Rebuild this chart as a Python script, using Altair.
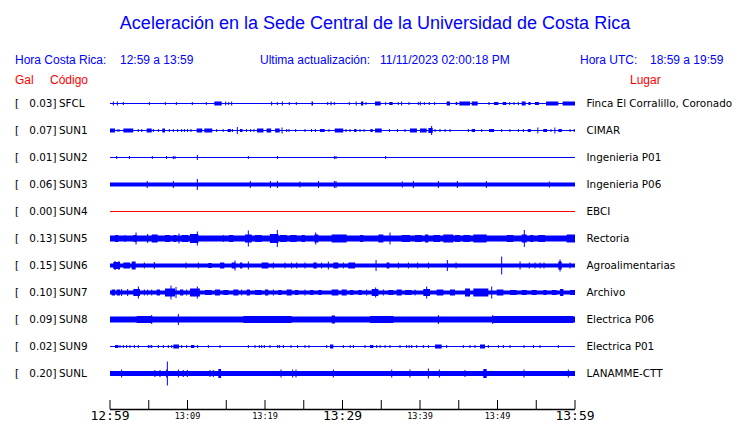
import altair as alt
import pandas as pd

# ---------------- data ----------------
TITLE = "Aceleración en la Sede Central de la Universidad de Costa Rica"
STATIONS = ["SFCL", "SUN1", "SUN2", "SUN3", "SUN4", "SUN5", "SUN6", "SUN7", "SUN8", "SUN9", "SUNL"]
GAL = [0.03, 0.07, 0.01, 0.06, 0.00, 0.13, 0.15, 0.10, 0.09, 0.02, 0.20]
PLACES = ["Finca El Corralillo, Coronado", "CIMAR", "Ingenieria P01", "Ingenieria P06", "EBCI",
          "Rectoria", "Agroalimentarias", "Archivo", "Electrica P06", "Electrica P01", "LANAMME-CTT"]
# background noise half-amplitude of each trace
NOISE = [0.5, 0.5, 0.5, 2, 0.5, 3, 2, 2, 3, 0.5, 2.5]

# spikes: (minute after 12:59, half amplitude)
SPIKES = {
    "SFCL": [(0.43, 2), (0.95, 2), (1.72, 1.5), (5.08, 1.5), (7.14, 1.5), (8.56, 1.5), (10.62, 1.5), (12.43, 1.5),
             (14.93, 2), (15.31, 1.5), (15.70, 2), (20.86, 2), (21.59, 1.5), (22.24, 2), (23.14, 1.5), (24.04, 1.5),
             (28.09, 1.5), (28.52, 2), (28.95, 1.5), (30.88, 1.5), (33.03, 1.5), (35.57, 1.5), (37.2, 1.5),
             (37.63, 2), (38.58, 1.5), (39.78, 1.5), (40.04, 2), (40.56, 1.5), (41.2, 1.5), (41.89, 1.5),
             (48.9, 1.5), (51.57, 1.5), (52.13, 1.5), (52.69, 1.5)],
    "SUN1": [(3.65, 1.5), (4.1, 1.5), (5.6, 1.5), (6.24, 1.5), (7.66, 1.5), (8.17, 1.5), (8.73, 1.5), (9.25, 1.5),
             (9.6, 1.5), (10.0, 1.5), (10.45, 1.5), (13.76, 1.5), (14.6, 1.5), (15.8, 1.5), (16.43, 3.5),
             (17.6, 1.5), (18.15, 1.5), (18.58, 1.5), (22.2, 3), (22.8, 1.5), (23.1, 1.5), (23.96, 1.5),
             (25.16, 1.5), (26.0, 1.5), (26.5, 1.5), (28.26, 1.5), (30.45, 1.5), (30.97, 1.5), (32.26, 1.5),
             (32.78, 1.5), (36.05, 1.5), (37.08, 1.5), (38.07, 1.5), (41.5, 4.5), (41.94, 1.5), (42.58, 1.5),
             (43.23, 1.5), (43.87, 1.5), (46.24, 1.5), (47.96, 1.5), (50.54, 1.5), (51.6, 1.5), (52.69, 1.5),
             (53.34, 1.5), (55.2, 3), (56.9, 1.5), (57.4, 3), (59.36, 1.5), (59.9, 1.5)],
    "SUN2": [(0.86, 1.5), (2.5, 1.5), (5.46, 1.5), (7.3, 1.5), (8.17, 1.5), (8.39, 1.5), (11.27, 2.5),
             (17.85, 1.5), (21.6, 1.5), (28.95, 1.5), (29.16, 1.5), (35.57, 1.5)],
    "SUN3": [(4.8, 3.5), (8.17, 3.5), (11.27, 5.5), (18.1, 3.5), (20.69, 3.5), (21.6, 3.5), (24.5, 3),
             (26.9, 3.5), (28.95, 3.5), (29.16, 3.5), (37.72, 3), (39.14, 3.5), (42.37, 3.5), (44.82, 3.5),
             (48.56, 3.5), (56.69, 3)],
    "SUN4": [],
    "SUN5": [(1.94, 3.5), (3.36, 6), (4.86, 4.5), (8.9, 5), (11.27, 7), (14.62, 3.5), (17.85, 8), (21.59, 8.5),
             (26.54, 6), (36.13, 6), (53.46, 8.5)],
    "SUN6": [(0.65, 4.5), (1.16, 4.5), (4.43, 3), (5.72, 3.5), (9.81, 3), (11.4, 3), (16.13, 5), (17.85, 4),
             (21.08, 3), (22.58, 3), (23.44, 3), (24.09, 3), (25.16, 3), (27.31, 3), (28.17, 4), (30.11, 3),
             (34.33, 5.5), (37.21, 3), (38.5, 3), (39.7, 3), (41.08, 3), (43.53, 5.5), (44.65, 3), (50.54, 9),
             (52.91, 4), (54.11, 3), (54.84, 3), (55.49, 3), (56.0, 3), (58.07, 6), (59.36, 3)],
    "SUN7": [(1.5, 3.5), (2.28, 3.5), (3.66, 6), (4.43, 3), (4.86, 3), (5.38, 3), (7.87, 7), (8.52, 5.5),
             (9.89, 3), (11.27, 6), (16.99, 3), (21.08, 3), (25.16, 3), (33.12, 3), (34.28, 5), (35.27, 3),
             (39.36, 3), (40.86, 6), (49.25, 6)],
    "SUN8": [(5.38, 4.5), (8.82, 5.5), (42.37, 4.5), (49.38, 4.5)],
    "SUN9": [(1.29, 1.5), (1.72, 1.5), (2.15, 1.5), (2.58, 1.5), (3.14, 1.5), (3.65, 1.5), (4.95, 1.5),
             (5.16, 1.5), (5.38, 1.5), (6.24, 1.5), (6.88, 1.5), (7.53, 1.5), (7.96, 1.5), (9.25, 1.5),
             (9.89, 1.5), (11.31, 1.5), (12.69, 1.5), (14.19, 1.5), (17.85, 1.5), (18.71, 1.5), (19.27, 1.5),
             (19.57, 1.5), (19.91, 1.5), (20.64, 1.5), (21.63, 1.5), (21.85, 1.5), (22.37, 1.5), (23.36, 1.5),
             (24.21, 1.5), (25.16, 1.5), (25.68, 1.5), (27.96, 1.5), (30.11, 1.5), (31.0, 1.5), (31.4, 1.5),
             (32.9, 1.5), (34.41, 1.5), (34.85, 1.5), (35.49, 1.5), (36.13, 1.5), (37.42, 1.5), (38.28, 1.5),
             (38.6, 1.5), (38.93, 1.5), (39.57, 1.5), (40.43, 1.5), (41.08, 1.5), (43.44, 1.5), (45.59, 1.5),
             (46.45, 1.5), (47.1, 1.5), (48.82, 1.5), (50.11, 1.5), (50.75, 1.5), (51.62, 1.5), (53.42, 1.5),
             (54.63, 1.5), (55.49, 1.5), (57.85, 1.5)],
    "SUNL": [(1.5, 4), (5.8, 3.5), (6.45, 3.5), (7.31, 4), (7.4, 12), (8.82, 4), (9.46, 3.5), (9.98, 3.5),
             (12.9, 3.5), (13.33, 3.5), (22.07, 4), (23.57, 4), (24.0, 4), (28.82, 4), (36.35, 4), (38.71, 4),
             (41.08, 5), (42.5, 4), (45.81, 3.5), (53.42, 4), (59.14, 4)],
}

# bursts: (start minute, end minute, half amplitude)
BURSTS = {
    "SFCL": [(13.46, 14.41, 2), (26.0, 26.2, 2), (31.7, 31.83, 2), (32.39, 32.69, 2), (34.19, 34.92, 2),
             (36.04, 36.47, 1.5), (43.44, 43.87, 2), (44.6, 44.82, 1.5), (45.08, 46.45, 2), (46.67, 47.44, 2),
             (49.55, 50.11, 1.5), (50.67, 51.14, 1.5), (53.12, 53.63, 2), (53.98, 54.28, 1.5),
             (54.84, 55.35, 1.5), (56.26, 57.85, 2), (58.4, 60.0, 2)],
    "SUN1": [(0.0, 0.65, 2), (0.86, 1.29, 1), (1.72, 3.0, 2), (4.73, 5.38, 2), (6.75, 7.1, 2), (11.18, 11.9, 2),
             (12.17, 13.2, 2), (15.18, 15.6, 1.5), (16.77, 17.1, 1.5), (18.97, 19.8, 2), (20.2, 20.8, 2),
             (21.3, 21.9, 2), (27.1, 27.7, 1.5), (29.0, 30.1, 2), (31.5, 31.8, 1.5), (33.6, 33.9, 1.5),
             (34.2, 35.06, 2), (38.7, 39.6, 2), (40.0, 40.86, 2), (41.08, 41.64, 2.5), (46.67, 47.1, 1.5),
             (48.9, 49.55, 1.5), (53.9, 54.3, 1.5), (55.9, 56.4, 1.5), (57.85, 58.3, 1.5)],
    "SUN2": [],
    "SUN3": [],
    "SUN4": [],
    "SUN5": [(0.65, 1.08, 3.5), (3.01, 3.44, 3.5), (5.38, 6.15, 4), (7.1, 7.74, 3.5),
             (8.17, 8.6, 3.5), (9.25, 10.11, 3.5), (10.32, 11.4, 4.5), (15.35, 15.91, 3.5),
             (17.42, 18.28, 4), (18.71, 19.57, 3.5), (20.64, 21.72, 4.5), (21.94, 22.8, 3.5),
             (23.23, 24.09, 3.5), (24.73, 25.16, 3.5), (26.37, 26.88, 4), (28.6, 30.54, 4), (32.26, 32.69, 3.5),
             (34.63, 35.27, 4), (37.64, 38.71, 3.5), (39.36, 40.22, 3.5), (40.65, 41.08, 4), (41.72, 42.58, 3.5),
             (43.01, 44.3, 4), (44.52, 45.16, 3.5), (45.59, 46.45, 3.5), (46.88, 48.6, 4), (51.19, 52.05, 3.5),
             (53.12, 53.77, 4), (54.2, 54.63, 3.5), (55.27, 56.13, 3.5), (58.93, 60.0, 4)],
    "SUN6": [(0.43, 1.29, 3.5), (1.72, 2.58, 3), (2.8, 3.31, 4), (12.69, 13.12, 2.5), (14.2, 14.75, 3),
             (15.7, 16.2, 3), (16.77, 17.07, 3), (19.57, 20.43, 3), (26.24, 26.67, 3), (28.82, 29.46, 3),
             (30.75, 31.62, 3), (35.7, 36.05, 3), (57.85, 58.28, 4)],
    "SUN7": [(0.22, 0.65, 3), (0.86, 1.29, 3), (3.01, 3.87, 3.5), (6.02, 6.45, 3), (7.1, 8.39, 4),
             (9.03, 9.46, 3), (10.32, 11.6, 4), (12.26, 13.12, 2.5), (13.55, 14.19, 3), (14.62, 15.27, 2.5),
             (15.91, 16.56, 3), (17.63, 18.06, 3), (18.71, 19.57, 2.5), (20.0, 20.43, 3), (21.72, 22.15, 2.5),
             (22.8, 23.44, 3), (23.87, 24.3, 2.5), (25.81, 26.24, 2.5), (26.88, 27.31, 2.5), (28.6, 29.46, 3),
             (29.89, 30.54, 3), (30.97, 31.4, 2.5), (32.05, 32.48, 2.5), (33.77, 34.63, 3.5), (35.92, 36.56, 2.5),
             (36.99, 37.64, 3), (38.07, 38.93, 2.5), (40.43, 41.29, 3.5), (42.15, 43.01, 3), (43.87, 44.52, 3),
             (45.81, 46.45, 4), (46.88, 48.82, 4), (49.9, 50.76, 3), (51.62, 52.48, 2.5), (53.12, 53.77, 2.5),
             (54.41, 55.06, 2.5), (55.92, 56.35, 2.5), (57.0, 57.64, 2.5), (58.07, 58.5, 3.5), (59.36, 60.0, 2.5)],
    "SUN8": [(3.44, 5.38, 3.5), (17.2, 23.44, 3.5), (28.6, 29.03, 4), (33.55, 36.56, 3.5), (49.46, 59.79, 3.5)],
    "SUN9": [(0.65, 1.08, 1.5), (8.17, 8.9, 2), (10.45, 10.88, 1.5), (28.39, 28.82, 2), (33.55, 33.98, 1.5),
             (41.94, 42.8, 2), (47.74, 48.39, 2)],
    "SUNL": [(13.98, 14.32, 4.5), (48.17, 48.6, 4.5)],
}

TICK_MIN = [0, 5, 10, 15, 20, 25, 30, 35, 40, 45, 50, 55, 60]
MAJOR_LABELS = ["12:59", "13:29", "13:59"]
MAJOR_AT = [0, 30, 60]
MINOR_LABELS = ["13:09", "13:19", "13:39", "13:49"]
MINOR_AT = [10, 20, 40, 50]

# ---------------- styling / layout ----------------
BLUE = "#0000ff"
RED = "#ff0000"
ROW = 27
SANS = "Liberation Sans"
DJV = "DejaVu Sans"

base_rows, spike_rows, burst_rows, label_rows = [], [], [], []
for i, st in enumerate(STATIONS):
    y0 = i * ROW
    col = RED if GAL[i] == 0 else BLUE
    base_rows.append({"t0": 0, "t1": 60, "lo": y0 - NOISE[i], "hi": y0 + NOISE[i], "c": col})
    for t, a in SPIKES[st]:
        spike_rows.append({"t": t, "lo": y0 - a, "hi": y0 + a, "c": col})
    for t0, t1, a in BURSTS[st]:
        burst_rows.append({"t0": t0, "t1": t1, "lo": y0 - a, "hi": y0 + a, "c": col})
    label_rows.append({"y": y0, "gal": f"{GAL[i]:.2f}]", "code": st, "place": PLACES[i]})

base_df = pd.DataFrame(base_rows)
spike_df = pd.DataFrame(spike_rows)
burst_df = pd.DataFrame(burst_rows)
label_df = pd.DataFrame(label_rows)

xsc = alt.Scale(domain=[0, 60], range=[102, 567], zero=False, nice=False)
ysc = alt.Scale(domain=[0, 10 * ROW], range=[95.5, 365.5], zero=False, nice=False)
colr = alt.Color("c:N", scale=None, legend=None)

base = alt.Chart(base_df).mark_rect().encode(
    x=alt.X("t0:Q", scale=xsc, axis=None), x2="t1",
    y=alt.Y("lo:Q", scale=ysc, axis=None), y2="hi", color=colr)
bursts = alt.Chart(burst_df).mark_rect().encode(
    x=alt.X("t0:Q", scale=xsc, axis=None), x2="t1",
    y=alt.Y("lo:Q", scale=ysc, axis=None), y2="hi", color=colr)
spikes = alt.Chart(spike_df).mark_rule(strokeWidth=1).encode(
    x=alt.X("t:Q", scale=xsc, axis=None),
    y=alt.Y("lo:Q", scale=ysc, axis=None), y2="hi", color=colr)

lab_common = dict(font=DJV, fontSize=10.4, color="black", baseline="middle")
bracket = alt.Chart(label_df).mark_text(align="left", text="[", **lab_common).encode(
    x=alt.value(7), y=alt.Y("y:Q", scale=ysc, axis=None))
galtxt = alt.Chart(label_df).mark_text(align="right", **lab_common).encode(
    x=alt.value(48.5), y=alt.Y("y:Q", scale=ysc, axis=None), text="gal:N")
codetxt = alt.Chart(label_df).mark_text(align="left", **lab_common).encode(
    x=alt.value(51), y=alt.Y("y:Q", scale=ysc, axis=None), text="code:N")
placetxt = alt.Chart(label_df).mark_text(align="left", **lab_common).encode(
    x=alt.value(578.5), y=alt.Y("y:Q", scale=ysc, axis=None), text="place:N")


def label(txt, x, y, color, size, font=SANS, align="left", baseline="alphabetic"):
    return alt.Chart(pd.DataFrame({"s": [txt]})).mark_text(
        font=font, fontSize=size, color=color, align=align, baseline=baseline).encode(
        x=alt.value(x), y=alt.value(y), text="s:N")


header = [
    label(TITLE, 367, 21, BLUE, 18, align="center"),
    label("Hora Costa Rica:", 7, 56, BLUE, 12),
    label("12:59 a 13:59", 112, 56, BLUE, 12),
    label("Ultima actualización:", 252, 56, BLUE, 12),
    label("11/11/2023 02:00:18 PM", 372, 56, BLUE, 12),
    label("Hora UTC:", 572, 56, BLUE, 12),
    label("18:59 a 19:59", 642, 56, BLUE, 12),
    label("Gal", 7, 76, RED, 12),
    label("Código", 42, 76, RED, 12),
    label("Lugar", 622, 76, RED, 12),
]

axis_line = alt.Chart(pd.DataFrame({"t0": [0], "t1": [60]})).mark_rule(
    color="black", strokeWidth=1.5).encode(
    x=alt.X("t0:Q", scale=xsc, axis=None), x2="t1", y=alt.value(401.5))
ticks = alt.Chart(pd.DataFrame({"t": TICK_MIN})).mark_rule(color="black", strokeWidth=1).encode(
    x=alt.X("t:Q", scale=xsc, axis=None), y=alt.value(392), y2=alt.value(401))
major = alt.Chart(pd.DataFrame({"t": MAJOR_AT, "s": MAJOR_LABELS})).mark_text(
    font="DejaVu Sans Mono", fontSize=13, color="black", align="center", baseline="middle").encode(
    x=alt.X("t:Q", scale=xsc, axis=None), y=alt.value(408), text="s:N")
minor = alt.Chart(pd.DataFrame({"t": MINOR_AT, "s": MINOR_LABELS})).mark_text(
    font="DejaVu Sans Mono", fontSize=8.5, color="black", align="center", baseline="middle").encode(
    x=alt.X("t:Q", scale=xsc, axis=None), y=alt.value(408), text="s:N")

chart = alt.layer(
    base, bursts, spikes, bracket, galtxt, codetxt, placetxt,
    axis_line, ticks, major, minor, *header
).properties(
    width=724, height=415, padding=0, autosize=alt.AutoSizeParams(type="none"),
    background="white"
).configure_view(stroke=None)

chart.save("out.html", embed_options={"renderer": "svg", "actions": False})
